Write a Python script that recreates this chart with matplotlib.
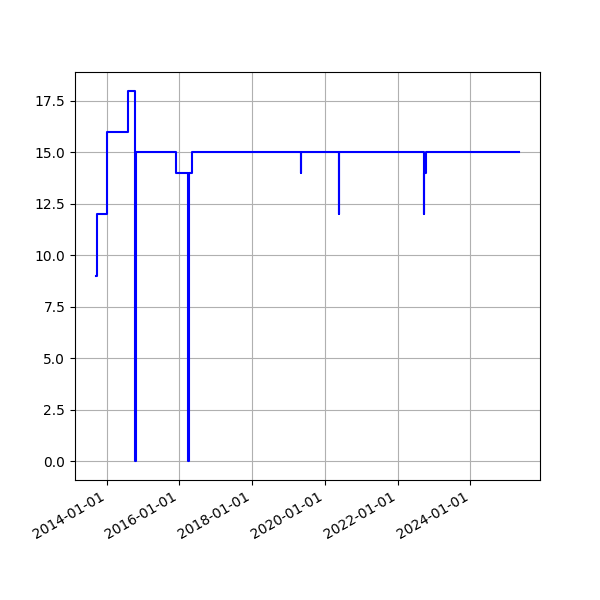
import matplotlib
matplotlib.use('Agg')
import matplotlib.pyplot as plt
import matplotlib.dates as mdates
import pandas as pd

# change dates and the value that holds from each date on
dates = ['2013-09-18', '2013-09-24', '2014-01-10', '2014-08-04', '2014-10-18',
         '2014-10-22', '2015-11-28', '2016-03-31', '2016-04-04', '2016-04-08',
         '2016-05-07', '2019-05-06', '2019-05-10', '2020-05-22', '2020-05-26',
         '2022-09-18', '2022-09-22', '2022-10-12', '2025-05-01']
values = [9, 12, 16, 18, 0,
          15, 14, 0, 3, 14,
          15, 14, 15, 12, 15,
          12, 14, 15, 15]

x = pd.to_datetime(dates)

fig, ax = plt.subplots(figsize=(6, 6), dpi=100)
ax.step(x, values, where='post', color='b')
ax.xaxis.set_major_locator(mdates.YearLocator(2))
ax.xaxis.set_major_formatter(mdates.DateFormatter('%Y-%m-%d'))
ax.grid(True)
fig.autofmt_xdate()
fig.savefig('out.png', dpi=100)
